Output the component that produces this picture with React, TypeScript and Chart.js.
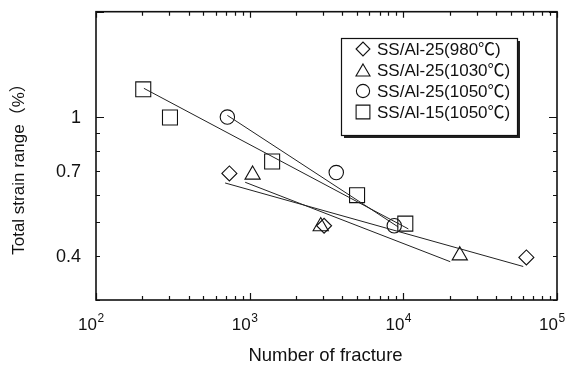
import React, { useEffect, useRef } from "react";
import { Chart, registerables } from "chart.js";
import { drawPoint } from "chart.js/helpers";

Chart.register(...registerables);

// Measured fatigue data: cycles to fracture vs. total strain range (%)
const seriesLabels = [
  "SS/Al-25(980℃)",
  "SS/Al-25(1030℃)",
  "SS/Al-25(1050℃)",
  "SS/Al-15(1050℃)",
];
const seriesStyles = ["rectRot", "triangle", "circle", "rect"];
const seriesRadii = [7.5, 8.8, 7.2, 10.6];

const diamondCycles = [738, 3050, 63200];
const diamondStrain = [0.69, 0.489, 0.397];
const triangleCycles = [1045, 2900, 23300];
const triangleStrain = [0.684, 0.487, 0.402];
const circleCycles = [716, 3660, 8730];
const circleStrain = [1.0, 0.694, 0.489];
const squareCycles = [203, 303, 1400, 5000, 10300];
const squareStrain = [1.2, 0.997, 0.746, 0.598, 0.496];

// Fitted regression lines (start and end points)
const diamondFitCycles = [692, 60300];
const diamondFitStrain = [0.648, 0.374];
const triangleFitCycles = [935, 20200];
const triangleFitStrain = [0.651, 0.386];
const circleFitCycles = [716, 9270];
const circleFitStrain = [1.011, 0.485];
const squareFitCycles = [205, 10780];
const squareFitStrain = [1.208, 0.479];

// Axes
const xDecades = [100, 1000, 10000, 100000];
const xExponents = ["2", "3", "4", "5"];
const yTickValues = [0.3, 0.4, 0.5, 0.6, 0.7, 0.8, 0.9, 1, 2];
const yMajorValues = [1, 2];
const yLabelValues = [0.4, 0.7, 1];
const xTitle = "Number of fracture";
const yTitle = "Total strain range（%）";

const FONT = '"Liberation Sans", Arial, "Noto Sans CJK JP", sans-serif';
const INK = "#111";

const pts = (xs: number[], ys: number[]) => xs.map((x, i) => ({ x, y: ys[i] }));

const markerData = [
  pts(diamondCycles, diamondStrain),
  pts(triangleCycles, triangleStrain),
  pts(circleCycles, circleStrain),
  pts(squareCycles, squareStrain),
];
const fitData = [
  pts(diamondFitCycles, diamondFitStrain),
  pts(triangleFitCycles, triangleFitStrain),
  pts(circleFitCycles, circleFitStrain),
  pts(squareFitCycles, squareFitStrain),
];

const xTickList = (() => {
  const list: { value: number; major: boolean }[] = [];
  for (let d = 0; d < xDecades.length; d++) {
    list.push({ value: xDecades[d], major: true });
    if (d < xDecades.length - 1) {
      for (let m = 2; m <= 9; m++) list.push({ value: xDecades[d] * m, major: false });
    }
  }
  return list;
})();

const frameAndLabels = {
  id: "frameAndLabels",
  afterDraw(chart: any) {
    const { ctx, chartArea: a, scales } = chart;
    const xs = scales.x;
    const ys = scales.y;
    ctx.save();
    ctx.strokeStyle = INK;
    ctx.lineWidth = 1.2;
    // inward ticks on all four sides
    ctx.beginPath();
    xs.ticks.forEach((t: any) => {
      const px = Math.round(xs.getPixelForValue(t.value)) + 0.5;
      const len = t.major ? 7 : 4;
      ctx.moveTo(px, a.bottom);
      ctx.lineTo(px, a.bottom - len);
      ctx.moveTo(px, a.top);
      ctx.lineTo(px, a.top + (t.major ? 6 : 4));
    });
    ys.ticks.forEach((t: any) => {
      const py = Math.round(ys.getPixelForValue(t.value)) + 0.5;
      const len = t.major ? 8 : 4;
      ctx.moveTo(a.left, py);
      ctx.lineTo(a.left + len, py);
      ctx.moveTo(a.right, py);
      ctx.lineTo(a.right - len, py);
    });
    ctx.stroke();
    // frame
    ctx.lineWidth = 1.6;
    ctx.strokeRect(a.left, a.top, a.right - a.left, a.bottom - a.top);

    ctx.fillStyle = INK;
    // x tick labels as powers of ten
    xDecades.forEach((v, i) => {
      const px = xs.getPixelForValue(v) + 1;
      ctx.font = `17px ${FONT}`;
      ctx.textAlign = "right";
      ctx.textBaseline = "alphabetic";
      ctx.fillText("10", px, 330);
      ctx.font = `12px ${FONT}`;
      ctx.textAlign = "left";
      ctx.fillText(xExponents[i], px + 0.5, 322);
    });
    // y tick labels
    ctx.font = `18px ${FONT}`;
    ctx.textAlign = "right";
    ctx.textBaseline = "middle";
    yLabelValues.forEach((v) => {
      ctx.fillText(String(v), 81, ys.getPixelForValue(v) + 1);
    });
    // axis titles
    ctx.textAlign = "center";
    ctx.font = `18.5px ${FONT}`;
    ctx.fillText(xTitle, (a.left + a.right) / 2 - 1, 356);
    ctx.font = `17px ${FONT}`;
    ctx.save();
    ctx.translate(19, 165);
    ctx.rotate(-Math.PI / 2);
    ctx.fillText(yTitle, 0, 0);
    ctx.restore();

    // legend box with drop shadow
    const lx = 341, ly = 38, lw = 176, lh = 97;
    ctx.fillStyle = "#222";
    ctx.fillRect(lx + 3, ly + 3, lw, lh);
    ctx.fillStyle = "#fff";
    ctx.fillRect(lx, ly, lw, lh);
    ctx.lineWidth = 1.2;
    ctx.strokeStyle = INK;
    ctx.strokeRect(lx + 0.5, ly + 0.5, lw, lh);
    ctx.font = `17px ${FONT}`;
    ctx.textAlign = "left";
    ctx.textBaseline = "middle";
    seriesLabels.forEach((label, i) => {
      const cy = ly + 11 + i * 21;
      ctx.lineWidth = 1.1;
      ctx.strokeStyle = INK;
      ctx.fillStyle = "rgba(0,0,0,0)";
      const r = seriesRadii[i] * 0.92;
      drawPoint(ctx, { pointStyle: seriesStyles[i] as any, radius: r, borderWidth: 1.1, rotation: 0 }, 363, seriesStyles[i] === "triangle" ? cy + r / 4 : cy);
      ctx.fillStyle = INK;
      ctx.fillText(label, 377, cy + 1);
    });
    ctx.restore();
  },
};

export default function App() {
  const canvasRef = useRef<HTMLCanvasElement | null>(null);

  useEffect(() => {
    const canvas = canvasRef.current;
    if (!canvas) return;

    const datasets: any[] = [];
    fitData.forEach((d) => {
      datasets.push({
        type: "line",
        data: d,
        showLine: true,
        borderColor: "#222",
        borderWidth: 1,
        pointRadius: 0,
        fill: false,
      });
    });
    markerData.forEach((d, i) => {
      datasets.push({
        type: "scatter",
        label: seriesLabels[i],
        data: d,
        pointStyle: seriesStyles[i],
        pointRadius: seriesRadii[i],
        borderColor: INK,
        borderWidth: 1.1,
        backgroundColor: "rgba(0,0,0,0)",
      });
    });

    const chart = new Chart(canvas, {
      type: "scatter",
      data: { datasets },
      options: {
        responsive: false,
        animation: false,
        devicePixelRatio: 1,
        layout: { padding: { top: 9, right: 13, left: 0, bottom: 0 } },
        plugins: { legend: { display: false }, tooltip: { enabled: false } },
        scales: {
          x: {
            type: "logarithmic",
            min: 100,
            max: 100000,
            grid: { display: false },
            border: { display: false },
            ticks: { display: false },
            afterBuildTicks: (s: any) => {
              s.ticks = xTickList.map((t) => ({ ...t }));
            },
            afterFit: (s: any) => {
              s.height = 72;
            },
          },
          y: {
            type: "logarithmic",
            min: 0.3,
            max: 2,
            grid: { display: false },
            border: { display: false },
            ticks: { display: false },
            afterBuildTicks: (s: any) => {
              s.ticks = yTickValues.map((v) => ({ value: v, major: yMajorValues.includes(v) }));
            },
            afterFit: (s: any) => {
              s.width = 96;
            },
          },
        },
      } as any,
      plugins: [frameAndLabels],
    });
    return () => chart.destroy();
  }, []);

  return (
    <div style={{ position: "fixed", left: 0, top: 0, width: 570, height: 372, background: "#fff" }}>
      <canvas ref={canvasRef} width={570} height={372} />
    </div>
  );
}
